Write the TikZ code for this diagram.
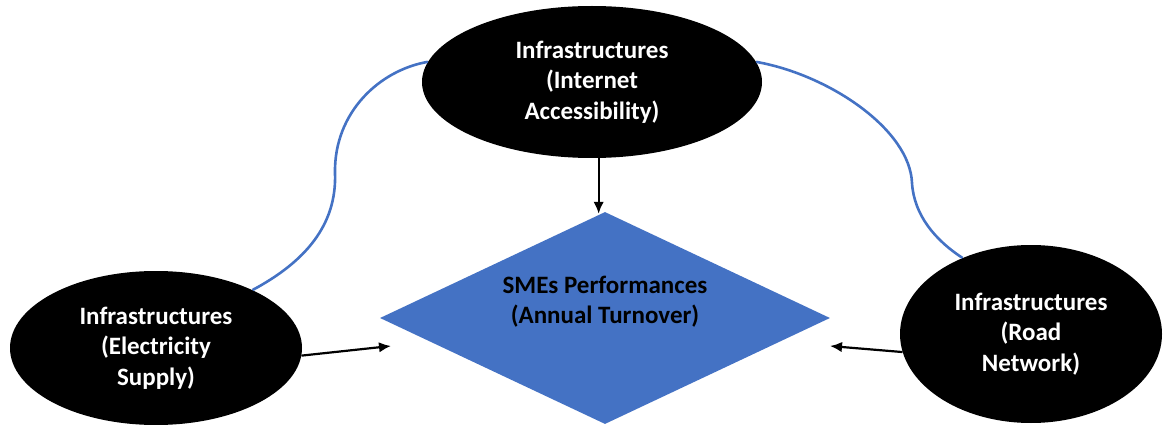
\documentclass[tikz,border=0pt]{standalone}
\usepackage{fontspec}
\setmainfont{Carlito}
\usetikzlibrary{shapes.geometric,arrows.meta}
\definecolor{officeblue}{HTML}{4472C4}
\begin{document}
\begin{tikzpicture}[x=1pt,y=-1pt,
  factor/.style={ellipse, fill=black, inner sep=0pt, text=white,
    font=\fontsize{25}{30.5}\selectfont\bfseries, align=center},
  outcome/.style={diamond, fill=officeblue, inner sep=0pt, aspect=2.12,
    minimum width=450pt, minimum height=212pt},
  outcometext/.style={text=black, font=\fontsize{25}{30}\selectfont\bfseries, align=center},
  link/.style={draw=officeblue, line width=2.6pt},
  arr/.style={draw=black, line width=2.2pt, -{Latex[length=12pt,width=10.5pt]}}]
  \useasboundingbox (0,0) rectangle (1163,425);

  % central outcome
  \node[outcome] (sme) at (605,318) {};
  \node[outcometext] (smetxt) at (605,302) {SMEs Performances\\(Annual Turnover)};

  % infrastructure factors
  \node[factor, minimum width=340pt, minimum height=152pt] (net) at (592,82)
    {Infrastructures\\(Internet\\Accessibility)};
  \node[factor, minimum width=292pt, minimum height=154pt] (elec) at (156,348)
    {Infrastructures\\(Electricity\\Supply)};
  \node[factor, minimum width=262pt, minimum height=178pt] (road) at (1031,334)
    {Infrastructures\\(Road\\Network)};

  % links between the factors
  \draw[link] (elec.31) .. controls (305,262) and (337,225) .. (335,173)
    .. controls (334,112) and (380,70) .. (net.173);
  \draw[link] (net.7) .. controls (830,75) and (910,130) .. (912,183)
    .. controls (914,215) and (935,240) .. (road.132);

  % arrows into the outcome
  \coordinate (elecTip) at (391,346);
  \coordinate (roadTip) at (830,346);
  \draw[arr] (net.275) -- ([yshift=-2pt]net.275 |- sme.north);
  \draw[arr] (elec.-3) -- (elecTip);
  \draw[arr] (road.188) -- (roadTip);
\end{tikzpicture}
\end{document}
